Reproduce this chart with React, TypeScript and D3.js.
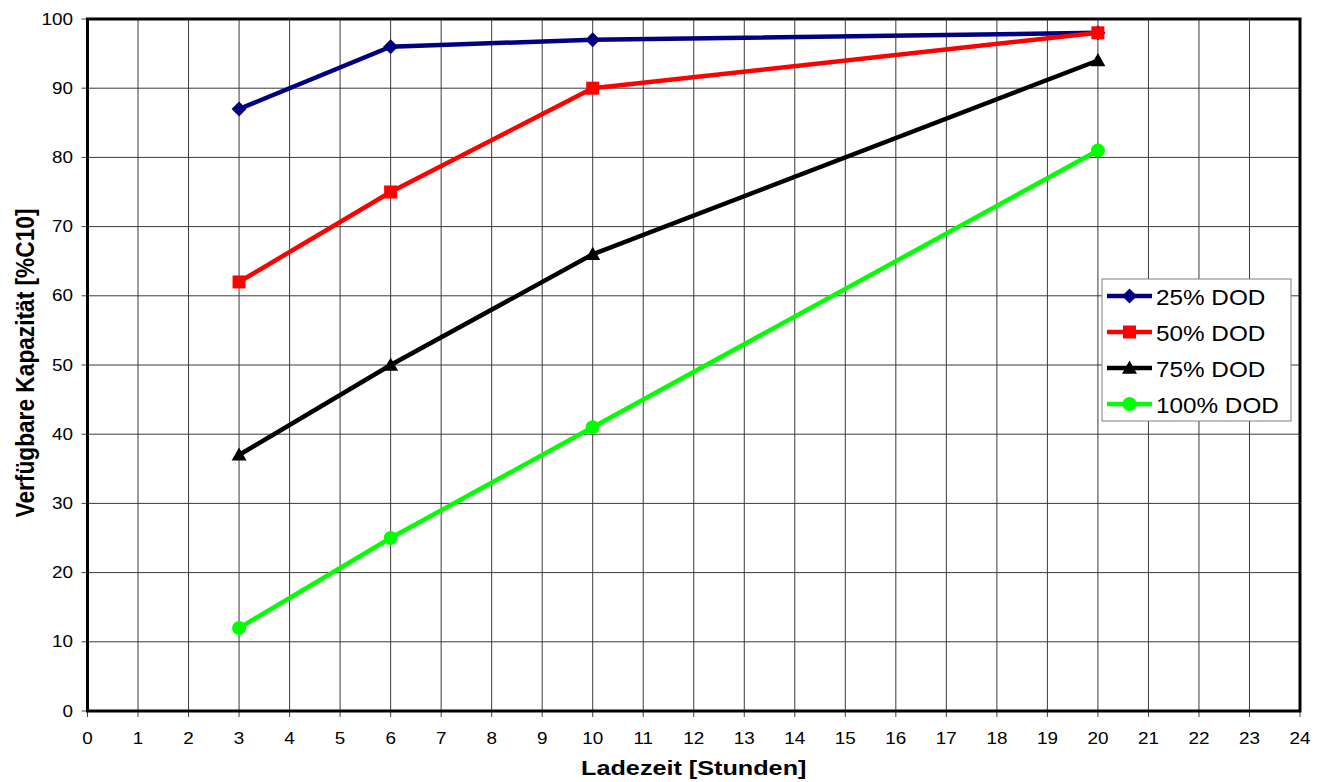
import React from "react";
import * as d3 from "d3";

const hours = [3, 6, 10, 20];
const dod25 = [87, 96, 97, 98];
const dod50 = [62, 75, 90, 98];
const dod75 = [37, 50, 66, 94];
const dod100 = [12, 25, 41, 81];
const seriesNames = ["25% DOD", "50% DOD", "75% DOD", "100% DOD"];
const seriesColors = ["#000080", "#FF0000", "#000000", "#00FF00"];
const seriesMarkers = ["diamond", "square", "triangle", "circle"];
const xTicks = d3.range(0, 25, 1);
const yTicks = d3.range(0, 101, 10);

const W = 1325, H = 782;
const L = 87.5, R = 1300, T = 19, B = 711;
const SX = 1.18;

function Marker({ type, x, y, color }: { type: string; x: number; y: number; color: string }) {
  if (type === "diamond") {
    const s = 7.5;
    return <path d={`M${x},${y - s}L${x + s},${y}L${x},${y + s}L${x - s},${y}Z`} fill={color} />;
  }
  if (type === "square") {
    const s = 6.5;
    return <rect x={x - s} y={y - s} width={2 * s} height={2 * s} fill={color} />;
  }
  if (type === "triangle") {
    const s = 7.5;
    return <path d={`M${x},${y - s}L${x + s},${y + s * 0.75}L${x - s},${y + s * 0.75}Z`} fill={color} />;
  }
  return <circle cx={x} cy={y} r={7} fill={color} />;
}

export default function App() {
  const x = d3.scaleLinear().domain([0, 24]).range([L, R]);
  const y = d3.scaleLinear().domain([0, 100]).range([B, T]);
  const series = [dod25, dod50, dod75, dod100];
  const line = d3
    .line<[number, number]>()
    .x((d) => x(d[0]))
    .y((d) => y(d[1]));
  const font = "Liberation Sans, Arial, sans-serif";

  const legX = 1102, legY = 279, legW = 189, legH = 142;
  return (
    <svg width={W} height={H} style={{ position: "absolute", left: 0, top: 0, background: "#fff" }} fontFamily={font}>
      {/* grid */}
      {xTicks.map((t) => (
        <line key={"gx" + t} x1={x(t)} x2={x(t)} y1={T} y2={B} stroke="#3a3a3a" strokeWidth={1} />
      ))}
      {yTicks.map((t) => (
        <line key={"gy" + t} x1={L} x2={R} y1={y(t)} y2={y(t)} stroke="#3a3a3a" strokeWidth={1} />
      ))}
      {/* ticks */}
      {xTicks.map((t) => (
        <line key={"tx" + t} x1={x(t)} x2={x(t)} y1={B} y2={B + 6} stroke="#444" strokeWidth={1} />
      ))}
      {yTicks.map((t) => (
        <line key={"ty" + t} x1={L - 6} x2={L} y1={y(t)} y2={y(t)} stroke="#444" strokeWidth={1} />
      ))}
      {/* frame */}
      <rect x={L} y={T} width={R - L} height={B - T} fill="none" stroke="#000" strokeWidth={3} />
      {/* tick labels */}
      {xTicks.map((t) => (
        <text
          key={"lx" + t}
          transform={`translate(${x(t)},744) scale(${SX},1)`}
          textAnchor="middle"
          fontSize={16}
          fill="#000"
        >
          {t}
        </text>
      ))}
      {yTicks.map((t) => (
        <text
          key={"ly" + t}
          transform={`translate(73,${y(t) + 5.5}) scale(${SX},1)`}
          textAnchor="end"
          fontSize={16}
          fill="#000"
        >
          {t}
        </text>
      ))}
      {/* axis titles */}
      <text
        transform={`translate(${(L + R) / 2},775) scale(1.2,1)`}
        textAnchor="middle"
        fontSize={21}
        fontWeight="bold"
      >
        Ladezeit [Stunden]
      </text>
      <text
        transform={`translate(34,${(T + B) / 2 - 2}) scale(1.15,1) rotate(-90)`}
        textAnchor="middle"
        fontSize={22.7}
        fontWeight="bold"
      >
        Verfügbare Kapazität [%C10]
      </text>
      {/* series */}
      {series.map((vals, i) => {
        const pts = hours.map((h, j) => [h, vals[j]] as [number, number]);
        return (
          <g key={"s" + i}>
            <path d={line(pts) || ""} fill="none" stroke={seriesColors[i]} strokeWidth={4.5} />
            {pts.map((p, j) => (
              <Marker key={j} type={seriesMarkers[i]} x={x(p[0])} y={y(p[1])} color={seriesColors[i]} />
            ))}
          </g>
        );
      })}
      {/* legend */}
      <rect x={legX} y={legY} width={legW} height={legH} fill="#fff" stroke="#808080" strokeWidth={1} />
      {seriesNames.map((n, i) => {
        const cy = 296 + i * 36;
        return (
          <g key={"lg" + i}>
            <line x1={1107} x2={1152} y1={cy} y2={cy} stroke={seriesColors[i]} strokeWidth={4.5} />
            <Marker type={seriesMarkers[i]} x={1129.5} y={cy} color={seriesColors[i]} />
            <text transform={`translate(1156,${cy + 8.5}) scale(1.08,1)`} fontSize={22.5} fill="#000">
              {n}
            </text>
          </g>
        );
      })}
    </svg>
  );
}
